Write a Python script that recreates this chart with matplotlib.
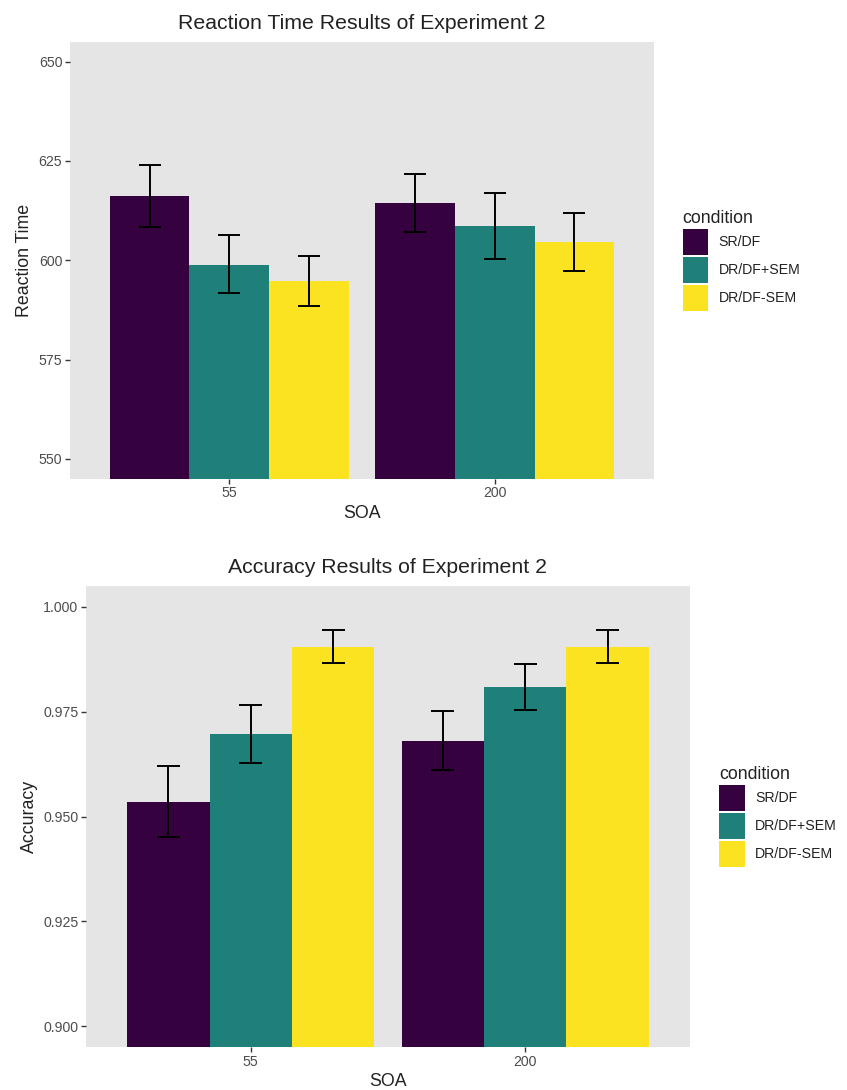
import matplotlib
matplotlib.use("Agg")
import matplotlib.pyplot as plt
from matplotlib.patches import Patch
import numpy as np

plt.rcParams['font.family'] = ['Liberation Sans', 'DejaVu Sans']

soa = ["55", "200"]
conditions = ["SR/DF", "DR/DF+SEM", "DR/DF-SEM"]
colors = ["#36013F", "#1F807A", "#FBE321"]

rt_mean = {"SR/DF": [616.2, 614.3], "DR/DF+SEM": [598.9, 608.7], "DR/DF-SEM": [594.7, 604.7]}
rt_lo = {"SR/DF": [608.3, 607.0], "DR/DF+SEM": [591.7, 600.4], "DR/DF-SEM": [588.6, 597.4]}
rt_hi = {"SR/DF": [624.0, 621.6], "DR/DF+SEM": [606.4, 617.0], "DR/DF-SEM": [601.0, 611.9]}

acc_mean = {"SR/DF": [0.9535, 0.9680], "DR/DF+SEM": [0.9696, 0.9808], "DR/DF-SEM": [0.9904, 0.9904]}
acc_lo = {"SR/DF": [0.9452, 0.9610], "DR/DF+SEM": [0.9627, 0.9754], "DR/DF-SEM": [0.9866, 0.9866]}
acc_hi = {"SR/DF": [0.9620, 0.9751], "DR/DF+SEM": [0.9765, 0.9864], "DR/DF-SEM": [0.9944, 0.9944]}

rt_ticks = [550, 575, 600, 625, 650]
acc_ticks = [0.900, 0.925, 0.950, 0.975, 1.000]

fig = plt.figure(figsize=(8.47, 10.90), dpi=100)

bg = "#E5E5E5"
txt = "#222222"
ticklab = "#4D4D4D"


def draw(ax, means, lo, hi, ylim, ticks, tickfmt, title, ylabel):
    ax.set_facecolor(bg)
    x = np.arange(1, len(soa) + 1)
    dodge = 0.9
    bw = dodge / len(conditions)
    for i, c in enumerate(conditions):
        xs = x - dodge / 2 + bw * (i + 0.5)
        m = np.array(means[c])
        ax.bar(xs, m - ylim[0] + 100, bottom=ylim[0] - 100, width=bw, color=colors[i], linewidth=0, zorder=2)
        l = np.array(lo[c]); h = np.array(hi[c])
        ax.vlines(xs, l, h, color="black", linewidth=1.4, zorder=3)
        cw = 0.0417
        ax.hlines(l, xs - cw, xs + cw, color="black", linewidth=1.4, zorder=3)
        ax.hlines(h, xs - cw, xs + cw, color="black", linewidth=1.4, zorder=3)
    ax.set_xlim(0.4, 2.6)
    ax.set_ylim(*ylim)
    ax.set_xticks(x)
    ax.set_xticklabels(soa)
    ax.set_yticks(ticks)
    ax.set_yticklabels([tickfmt.format(t) for t in ticks])
    for s in ax.spines.values():
        s.set_visible(False)
    ax.tick_params(axis="both", colors="#333333", labelcolor=ticklab, labelsize=10.2, length=3.5, width=1.0, pad=2)
    ax.set_xlabel("SOA", fontsize=12.8, color=txt, labelpad=3)
    ax.set_ylabel(ylabel, fontsize=12.8, color=txt, labelpad=4)
    ax.set_title(title, fontsize=15.3, color=txt, pad=9)
    handles = [Patch(facecolor=colors[i], edgecolor="none", label=c) for i, c in enumerate(conditions)]
    leg = ax.legend(handles=handles, title="condition", loc="center left", bbox_to_anchor=(1.027, 0.5),
                    frameon=False, fontsize=10.2, title_fontsize=12.8, handlelength=1.83, handleheight=2.45,
                    handletextpad=0.7, labelspacing=0.14, borderaxespad=0.5)
    leg._legend_box.align = "left"
    for t in leg.get_texts():
        t.set_color(txt)
    leg.get_title().set_color(txt)


ax1 = fig.add_axes([0.0826, 0.5608, 0.6896, 0.4009])
draw(ax1, rt_mean, rt_lo, rt_hi, (545, 655), rt_ticks, "{:d}", "Reaction Time Results of Experiment 2", "Reaction Time")

ax2 = fig.add_axes([0.1015, 0.0392, 0.7131, 0.4232])
draw(ax2, acc_mean, acc_lo, acc_hi, (0.895, 1.005), acc_ticks, "{:.3f}", "Accuracy Results of Experiment 2", "Accuracy")

fig.savefig("out.png", dpi=100)
